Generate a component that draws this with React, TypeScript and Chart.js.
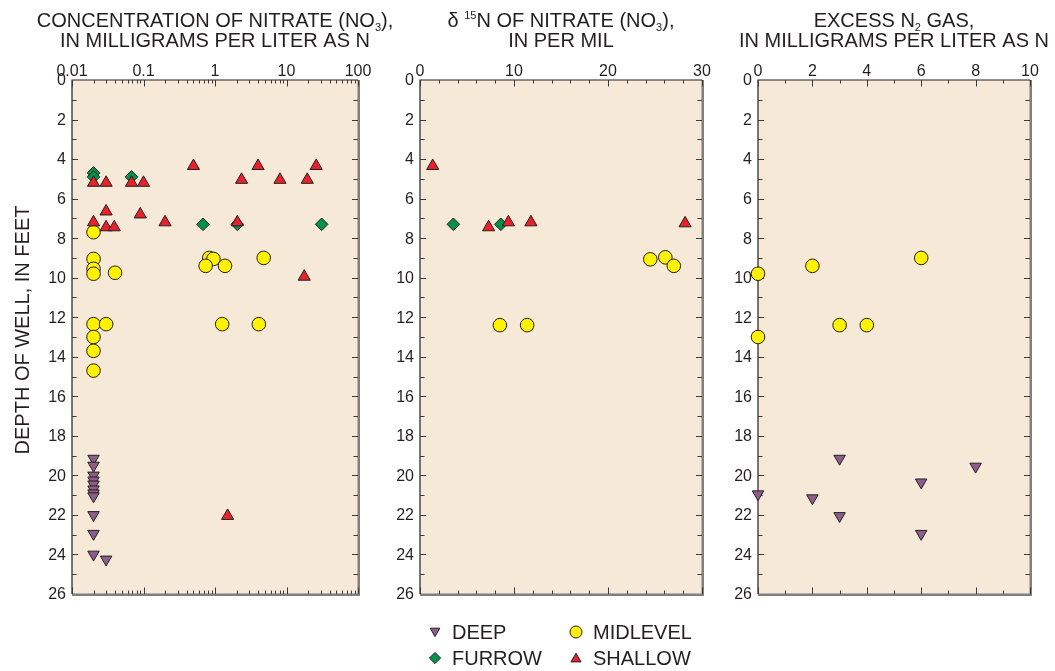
import React, { useEffect, useRef } from "react";
import { Chart, registerables } from "chart.js";
import { drawPoint } from "chart.js/helpers";

Chart.register(...registerables);

const W = 1055;
const H = 671;
const FONT = '"Liberation Sans", Arial, Helvetica, sans-serif';
const INK = "#231f20";
const PANEL_FILL = "#f6e9d7";
const EDGE_SHADE = "#808080";

// ---- Depth axis (shared by all panels) ----
const depthTickValues = [0, 2, 4, 6, 8, 10, 12, 14, 16, 18, 20, 22, 24, 26];
const depthTickLabels = ["0", "2", "4", "6", "8", "10", "12", "14", "16", "18", "20", "22", "24", "26"];

// ---- Panel 1: nitrate concentration, mg/L as N (log axis) ----
const concTickValues = [0.01, 0.1, 1, 10, 100];
const concTickLabels = ["0.01", "0.1", "1", "10", "100"];

const concDeepX = [0.02, 0.02, 0.02, 0.02, 0.02, 0.02, 0.02, 0.02, 0.02, 0.02, 0.02, 0.03];
const concDeepDepth = [19.15, 19.5, 20.0, 20.25, 20.45, 20.7, 20.9, 21.05, 22.0, 22.95, 24.0, 24.25];

const concFurrowX = [0.02, 0.02, 0.068, 0.68, 2.05, 31];
const concFurrowDepth = [4.7, 4.9, 4.9, 7.3, 7.3, 7.3];

const concMidX = [0.02, 0.02, 0.02, 0.02, 0.04, 0.83, 0.95, 0.74, 1.38, 4.8, 0.02, 0.03, 1.26, 4.1, 0.02, 0.02, 0.02];
const concMidDepth = [7.7, 9.05, 9.55, 9.8, 9.75, 9.0, 9.05, 9.4, 9.4, 9.0, 12.35, 12.35, 12.35, 12.35, 13.0, 13.7, 14.7];

const concShallowX = [0.02, 0.03, 0.068, 0.1, 0.5, 4.0, 26, 2.35, 8.1, 19.5, 0.03, 0.09, 0.02, 0.03, 0.039, 0.2, 2.05, 17.7, 1.5];
const concShallowDepth = [5.2, 5.2, 5.2, 5.2, 4.35, 4.35, 4.35, 5.05, 5.05, 5.05, 6.65, 6.8, 7.2, 7.45, 7.45, 7.2, 7.2, 9.95, 22.05];

// ---- Panel 2: delta 15N of nitrate, per mil ----
const deltaTickValues = [0, 10, 20, 30];
const deltaTickLabels = ["0", "10", "20", "30"];

const deltaFurrowX = [3.55, 8.6];
const deltaFurrowDepth = [7.3, 7.3];

const deltaMidX = [24.5, 26.1, 27.0, 8.5, 11.4];
const deltaMidDepth = [9.07, 8.97, 9.4, 12.4, 12.4];

const deltaShallowX = [1.35, 7.3, 9.4, 11.8, 28.2];
const deltaShallowDepth = [4.35, 7.45, 7.2, 7.2, 7.25];

// ---- Panel 3: excess N2 gas, mg/L as N ----
const excessTickValues = [0, 2, 4, 6, 8, 10];
const excessTickLabels = ["0", "2", "4", "6", "8", "10"];

const excessDeepX = [3, 8, 6, 0, 2, 3, 6];
const excessDeepDepth = [19.15, 19.55, 20.35, 20.95, 21.15, 22.05, 22.95];

const excessMidX = [0, 2, 6, 3, 4, 0];
const excessMidDepth = [9.8, 9.4, 9.0, 12.4, 12.4, 13.0];

// ---- Well groups ----
const groupNames = ["DEEP", "FURROW", "MIDLEVEL", "SHALLOW"];

type Marker = { color: string; style: string; radius: number; rotation: number; order: number; legendRadius: number };
const markers: Record<string, Marker> = {
  DEEP: { color: "#8d5e8c", style: "triangle", radius: 6.6, rotation: 180, order: 3, legendRadius: 5.6 },
  FURROW: { color: "#00924a", style: "rectRot", radius: 6.3, rotation: 0, order: 2, legendRadius: 5.6 },
  MIDLEVEL: { color: "#fff200", style: "circle", radius: 6.8, rotation: 0, order: 1, legendRadius: 6 },
  SHALLOW: { color: "#e8212a", style: "triangle", radius: 7, rotation: 0, order: 0, legendRadius: 5.8 },
};

type Seg = { t: string; kind?: "sub" | "sup" };
type Series = { group: string; xs: number[]; ys: number[] };
type Panel = {
  left: number;
  right: number;
  xType: "linear" | "logarithmic";
  xMin: number;
  xMax: number;
  labelValues: number[];
  labelTexts: string[];
  majorTicks: number[];
  minorTicks: number[];
  title1: Seg[];
  title2: Seg[];
  series: Series[];
};

const PLOT_TOP = 80;
const PLOT_BOTTOM = 594;

const logMinor: number[] = [];
for (let d = 0.01; d < 100; d *= 10) {
  for (let m = 2; m <= 9; m++) logMinor.push(+(m * d).toPrecision(3));
}

const panels: Panel[] = [
  {
    left: 72,
    right: 358,
    xType: "logarithmic",
    xMin: 0.01,
    xMax: 100,
    labelValues: concTickValues,
    labelTexts: concTickLabels,
    majorTicks: concTickValues,
    minorTicks: logMinor,
    title1: [{ t: "CONCENTRATION OF NITRATE (NO" }, { t: "3", kind: "sub" }, { t: ")," }],
    title2: [{ t: "IN MILLIGRAMS PER LITER AS N" }],
    series: [
      { group: "DEEP", xs: concDeepX, ys: concDeepDepth },
      { group: "FURROW", xs: concFurrowX, ys: concFurrowDepth },
      { group: "MIDLEVEL", xs: concMidX, ys: concMidDepth },
      { group: "SHALLOW", xs: concShallowX, ys: concShallowDepth },
    ],
  },
  {
    left: 420,
    right: 702,
    xType: "linear",
    xMin: 0,
    xMax: 30,
    labelValues: deltaTickValues,
    labelTexts: deltaTickLabels,
    majorTicks: deltaTickValues,
    minorTicks: [2, 4, 6, 8, 12, 14, 16, 18, 22, 24, 26, 28],
    title1: [{ t: "\u03b4 " }, { t: "15", kind: "sup" }, { t: "N OF NITRATE (NO" }, { t: "3", kind: "sub" }, { t: ")," }],
    title2: [{ t: "IN PER MIL" }],
    series: [
      { group: "FURROW", xs: deltaFurrowX, ys: deltaFurrowDepth },
      { group: "MIDLEVEL", xs: deltaMidX, ys: deltaMidDepth },
      { group: "SHALLOW", xs: deltaShallowX, ys: deltaShallowDepth },
    ],
  },
  {
    left: 758,
    right: 1030,
    xType: "linear",
    xMin: 0,
    xMax: 10,
    labelValues: excessTickValues,
    labelTexts: excessTickLabels,
    majorTicks: excessTickValues,
    minorTicks: [1, 3, 5, 7, 9],
    title1: [{ t: "EXCESS N" }, { t: "2", kind: "sub" }, { t: " GAS," }],
    title2: [{ t: "IN MILLIGRAMS PER LITER AS N" }],
    series: [
      { group: "DEEP", xs: excessDeepX, ys: excessDeepDepth },
      { group: "MIDLEVEL", xs: excessMidX, ys: excessMidDepth },
    ],
  },
];

function drawRichLine(ctx: CanvasRenderingContext2D, segs: Seg[], cx: number, baseline: number) {
  const fontFor = (s: Seg) => (s.kind ? `11px ${FONT}` : `20px ${FONT}`);
  let total = 0;
  const widths = segs.map((s) => {
    ctx.font = fontFor(s);
    const w = ctx.measureText(s.t).width;
    total += w;
    return w;
  });
  let x = cx - total / 2;
  ctx.textAlign = "left";
  ctx.textBaseline = "alphabetic";
  segs.forEach((s, i) => {
    ctx.font = fontFor(s);
    const dy = s.kind === "sub" ? 4 : s.kind === "sup" ? -8 : 0;
    ctx.fillText(s.t, x, baseline + dy);
    x += widths[i];
  });
}

function makePanelPlugin(p: Panel, index: number) {
  return {
    id: "panelFrame" + index,
    beforeDraw(chart: any) {
      const { ctx, chartArea: a } = chart;
      ctx.save();
      ctx.fillStyle = PANEL_FILL;
      ctx.fillRect(a.left, a.top, a.right - a.left, a.bottom - a.top);
      ctx.restore();
    },
    beforeDatasetsDraw(chart: any) {
      const { ctx, chartArea: a } = chart;
      const xs = chart.scales.x;
      const ys = chart.scales.y;
      ctx.save();

      // shaded right and bottom edges
      ctx.fillStyle = EDGE_SHADE;
      ctx.fillRect(a.right - 0.5, a.top, 2.5, a.bottom - a.top + 2);
      ctx.fillRect(a.left, a.bottom - 0.5, a.right - a.left + 2, 2.5);

      // dark top and left edges
      ctx.strokeStyle = INK;
      ctx.lineWidth = 1.2;
      ctx.beginPath();
      ctx.moveTo(a.left, a.bottom);
      ctx.lineTo(a.left, a.top);
      ctx.lineTo(a.right, a.top);
      ctx.stroke();

      // inward ticks on top and bottom
      ctx.lineWidth = 1;
      ctx.strokeStyle = "#3a3a3a";
      const xTick = (v: number, len: number) => {
        const px = Math.round(xs.getPixelForValue(v)) + 0.5;
        ctx.beginPath();
        ctx.moveTo(px, a.top);
        ctx.lineTo(px, a.top + len);
        ctx.moveTo(px, a.bottom);
        ctx.lineTo(px, a.bottom - len);
        ctx.stroke();
      };
      p.minorTicks.forEach((v) => xTick(v, 3.5));
      p.majorTicks.forEach((v) => xTick(v, 6.5));

      // inward ticks on left and right
      for (let d = 1; d < 26; d++) {
        const len = d % 2 === 0 ? 6 : 4.5;
        const py = Math.round(ys.getPixelForValue(d)) + 0.5;
        ctx.beginPath();
        ctx.moveTo(a.left, py);
        ctx.lineTo(a.left + len, py);
        ctx.moveTo(a.right, py);
        ctx.lineTo(a.right - len, py);
        ctx.stroke();
      }

      // tick labels
      ctx.fillStyle = INK;
      ctx.font = `16px ${FONT}`;
      ctx.textAlign = "center";
      ctx.textBaseline = "alphabetic";
      p.labelValues.forEach((v, i) => {
        ctx.fillText(p.labelTexts[i], xs.getPixelForValue(v), 76);
      });
      ctx.textAlign = "right";
      ctx.textBaseline = "middle";
      depthTickValues.forEach((v, i) => {
        ctx.fillText(depthTickLabels[i], a.left - 6, ys.getPixelForValue(v) + 1);
      });

      // panel title
      const cx = (a.left + a.right) / 2;
      drawRichLine(ctx, p.title1, cx, 27);
      drawRichLine(ctx, p.title2, cx, 47);

      if (index === 0) {
        ctx.save();
        ctx.translate(23, 330);
        ctx.rotate(-Math.PI / 2);
        ctx.font = `20px ${FONT}`;
        ctx.textAlign = "center";
        ctx.textBaseline = "middle";
        ctx.fillText("DEPTH OF WELL, IN FEET", 0, 0);
        ctx.restore();
      }
      ctx.restore();
    },
    afterDraw(chart: any) {
      if (index !== 1) return;
      const { ctx } = chart;
      const spots = [
        { x: 435, y: 632 },
        { x: 435, y: 658 },
        { x: 576, y: 632 },
        { x: 576, y: 658 },
      ];
      ctx.save();
      groupNames.forEach((g, i) => {
        const m = markers[g];
        const s = spots[i];
        ctx.fillStyle = m.color;
        ctx.strokeStyle = INK;
        ctx.lineWidth = 1;
        drawPoint(
          ctx,
          { pointStyle: m.style as any, radius: m.legendRadius, rotation: m.rotation, borderWidth: 1 },
          s.x,
          s.y + (m.style === "triangle" ? (m.rotation ? -1 : 1) : 0)
        );
        ctx.fillStyle = INK;
        ctx.font = `20px ${FONT}`;
        ctx.textAlign = "left";
        ctx.textBaseline = "middle";
        ctx.fillText(g, s.x + 17, s.y + 1);
      });
      ctx.restore();
    },
  };
}

function buildConfig(p: Panel, index: number): any {
  return {
    type: "scatter",
    data: {
      datasets: p.series.map((s) => {
        const m = markers[s.group];
        return {
          label: s.group,
          data: s.xs.map((x, i) => ({ x, y: s.ys[i] })),
          pointStyle: m.style,
          pointRadius: m.radius,
          pointRotation: m.rotation,
          pointBackgroundColor: m.color,
          pointBorderColor: INK,
          pointBorderWidth: 1,
          order: m.order,
          clip: false,
        };
      }),
    },
    options: {
      animation: false,
      responsive: false,
      maintainAspectRatio: false,
      events: [],
      layout: {
        padding: { left: p.left, right: W - p.right, top: PLOT_TOP, bottom: H - PLOT_BOTTOM },
      },
      plugins: { legend: { display: false }, tooltip: { enabled: false }, title: { display: false } },
      scales: {
        x: { type: p.xType, min: p.xMin, max: p.xMax, display: false },
        y: { type: "linear", min: 0, max: 26, reverse: true, display: false },
      },
    },
    plugins: [makePanelPlugin(p, index)],
  };
}

export default function App() {
  const r0 = useRef<HTMLCanvasElement>(null);
  const r1 = useRef<HTMLCanvasElement>(null);
  const r2 = useRef<HTMLCanvasElement>(null);
  const refs = [r0, r1, r2];

  useEffect(() => {
    const charts = panels.map((p, i) => new Chart(refs[i].current as HTMLCanvasElement, buildConfig(p, i)));
    return () => charts.forEach((c) => c.destroy());
  }, []);

  return (
    <div style={{ position: "absolute", left: 0, top: 0, width: W, height: H, background: "#ffffff" }}>
      {refs.map((r, i) => (
        <canvas
          key={i}
          ref={r}
          width={W}
          height={H}
          style={{ position: "absolute", left: 0, top: 0, width: W, height: H }}
        />
      ))}
    </div>
  );
}
